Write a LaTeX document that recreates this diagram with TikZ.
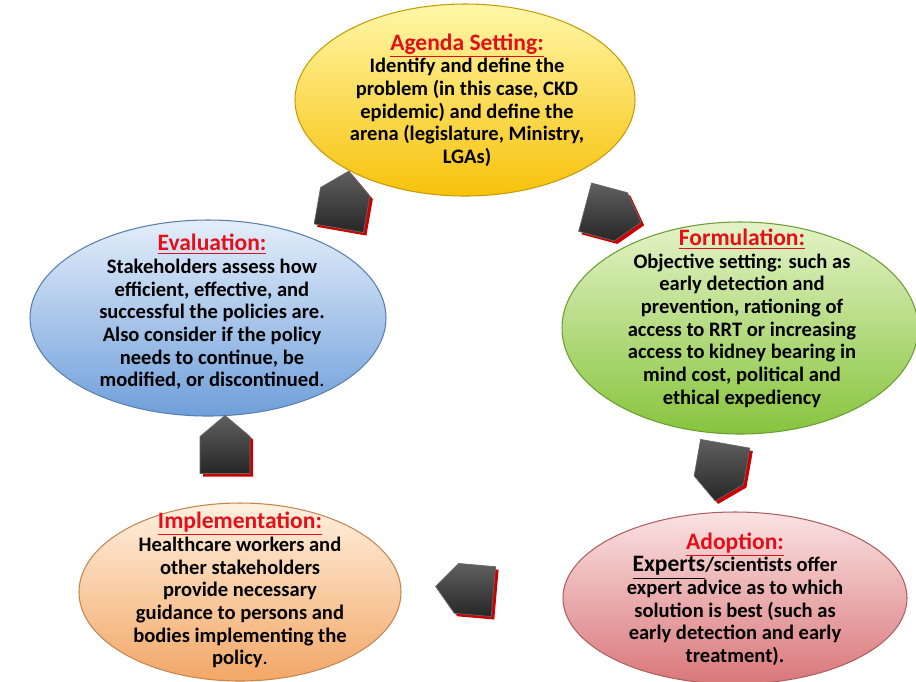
\documentclass[tikz,border=0pt]{standalone}
\usepackage{fontspec}
\setmainfont{Carlito}
\usetikzlibrary{shapes.geometric,shapes.arrows,positioning,calc}
\definecolor{titlered}{HTML}{E3101A}
\definecolor{agendatop}{HTML}{FFF7A8}
\definecolor{agendabot}{HTML}{F7C20A}
\definecolor{formtop}{HTML}{E4F3C8}
\definecolor{formbot}{HTML}{86C43C}
\definecolor{evaltop}{HTML}{E4EEFA}
\definecolor{evalbot}{HTML}{6F9FDA}
\definecolor{impltop}{HTML}{FFF0DF}
\definecolor{implbot}{HTML}{F2A766}
\definecolor{adopttop}{HTML}{FBE2E2}
\definecolor{adoptbot}{HTML}{D9777A}
\newcommand{\phasetitle}[1]{{\fontsize{13.4}{14.5}\selectfont\textcolor{titlered}{\underline{#1}}}}
\def\pgfunit{*0.02cm}
\tikzset{
  phase/.style={ellipse,inner sep=0pt,draw=#1bot!80!black,line width=0.6pt,
    top color=#1top,bottom color=#1bot},
  phasetext/.style={align=center,font=\bfseries\fontsize{11.7}{12.9}\selectfont,inner sep=0pt},
  blockarr/.style={single arrow,inner sep=0pt,minimum height=58\pgfunit,minimum width=50\pgfunit,
    single arrow head extend=0pt,single arrow tip angle=100,rotate=#1,
    top color=gray!75!black,bottom color=black!85,draw=black!60,line width=0.4pt},
  arrshadow/.style={single arrow,inner sep=0pt,minimum height=58\pgfunit,minimum width=50\pgfunit,
    single arrow head extend=0pt,single arrow tip angle=100,rotate=#1,
    fill=red!80!black}
}
\begin{document}
\begin{tikzpicture}[x=0.02cm,y=-0.02cm]
\useasboundingbox (0,0) rectangle (916,681);
% ellipses
\node[phase=agenda,minimum width=340\pgfunit,minimum height=192\pgfunit] (agenda) at (465,100) {};
\node[phase=form,minimum width=356\pgfunit,minimum height=212\pgfunit] (formulation) at (740,328) {};
\node[phase=eval,minimum width=356\pgfunit,minimum height=196\pgfunit] (evaluation) at (208,318) {};
\node[phase=impl,minimum width=322\pgfunit,minimum height=178\pgfunit] (implementation) at (240,592) {};
\node[phase=adopt,minimum width=344\pgfunit,minimum height=172\pgfunit] (adoption) at (735,598) {};
% texts
\node[phasetext] (agendatext) at (467,100) {\phasetitle{Agenda Setting:}\\
  Identify and define the\\ problem (in this case, CKD\\ epidemic) and define the\\
  arena (legislature, Ministry,\\ LGAs)};
\node[phasetext] (formulationtext) at (742,318) {\phasetitle{Formulation:}\\
  Objective setting: such as\\ early detection and\\ prevention, rationing of\\
  access to RRT or increasing\\ access to kidney bearing in\\ mind cost, political and\\
  ethical expediency};
\node[phasetext] (evaluationtext) at (212,312) {\phasetitle{Evaluation:}\\
  Stakeholders assess how\\ efficient, effective, and\\ successful the policies are.\\
  Also consider if the policy\\ needs to continue, be\\ modified, or discontinued\mdseries.};
\node[phasetext] (implementationtext) at (240,590) {\phasetitle{Implementation:}\\
  Healthcare workers and\\ other stakeholders\\ provide necessary\\
  guidance to persons and\\ bodies implementing the\\ policy\mdseries.};
\node[phasetext] (adoptiontext) at (735,599) {\phasetitle{Adoption:}\\
  {\fontsize{13.4}{14.5}\selectfont\underline{Experts}}/scientists offer\\ expert advice as to which\\
  solution is best (such as\\ early detection and early\\ treatment).};
% block arrows
\foreach \name/\x/\y/\ang in {toagenda/342/210/80, toform/603/212/-15, toadopt/722/462/-100,
  toimpl/475/590/175, toeval/225/455/90}{
  \node[arrshadow=\ang] at (\x+3,\y+3) {};
  \node[blockarr=\ang] (\name) at (\x,\y) {};
}
\end{tikzpicture}
\end{document}
